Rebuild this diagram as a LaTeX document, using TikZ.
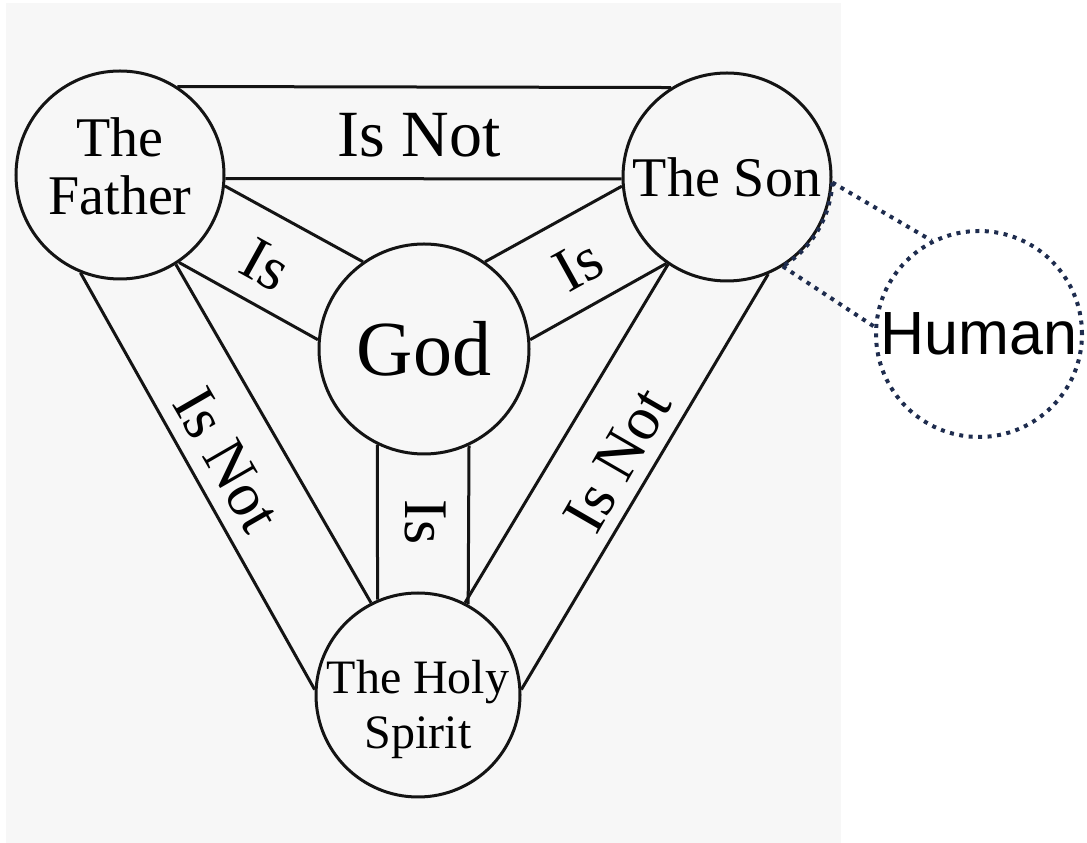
\documentclass[tikz,border=0pt]{standalone}
\usepackage{fontspec}
\setmainfont{Liberation Serif}
\newfontfamily\humanfont{Liberation Sans}
\definecolor{scan}{RGB}{247,247,247}
\definecolor{ink}{RGB}{20,20,20}
\definecolor{navy}{RGB}{30,44,78}
\tikzset{person/.style={circle,draw=ink,line width=3pt,minimum size=208pt,inner sep=-30pt,align=center,font=\fontsize{56}{58}\selectfont},band/.style={draw=ink,line width=3pt},tag/.style={inner sep=0pt,font=\fontsize{62}{62}\selectfont},callout/.style={draw=navy,line width=4pt,dash pattern=on 4pt off 5.5pt}}

\begin{document}
\begin{tikzpicture}[x=1pt,y=1pt]
\useasboundingbox (0,0) rectangle (1087,843);
\fill[scan] (6,0) rectangle (841,840);
\node[person] (F) at (120,668) {The\\Father\rule[-18pt]{0pt}{0pt}};
\node[person] (S) at (727,666) {The Son};
\node[person, minimum size=210pt, font=\fontsize{78}{78}\selectfont] (G) at (424,494) {God};
\node[person, minimum size=204pt, font=\fontsize{48}{55}\selectfont] (H) at (418,148) {\rule{0pt}{63pt}The Holy\\Spirit};
\node[callout, circle, minimum size=206pt, inner sep=0pt, font=\humanfont\fontsize{61}{61}\selectfont] (U) at (979,509) {Human};
% bands
\draw[band] (F.57) -- (S.122);
\draw[band] (F.-2) -- (S.181);
\draw[band] (F.-6) -- (G.125);
\draw[band] (F.-56) -- (G.175);
\draw[band] (S.185) -- (G.55);
\draw[band] (S.235) -- (G.5);
\draw[band] (G.-116) -- (H.113);
\draw[band] (G.-65) -- (H.61);
\draw[band] (F.248) -- (H.177);
\draw[band] (F.-58) -- (H.117);
\draw[band] (S.-67) -- (H.3);
\draw[band] (S.236) -- (H.63);
% labels
\node[tag, font=\fontsize{66}{66}\selectfont] (fs) at (419,708) {Is Not};
\node[tag, rotate=-29] (fg) at (266,578) {Is};
\node[tag, rotate=29] (sg) at (578,578) {Is};
\node[tag, rotate=-90] (gh) at (425,321) {Is};
\node[tag, rotate=-60] (fh) at (227,383) {Is Not};
\node[tag, rotate=60] (sh) at (617,383) {Is Not};
% callout to Human
\draw[callout] (S.-3) -- (U.117);
\draw[callout] (S.-58) -- (U.176);
\draw[callout] (S.-3) arc[start angle=-3, end angle=-58, radius=105pt];
\end{tikzpicture}
\end{document}
